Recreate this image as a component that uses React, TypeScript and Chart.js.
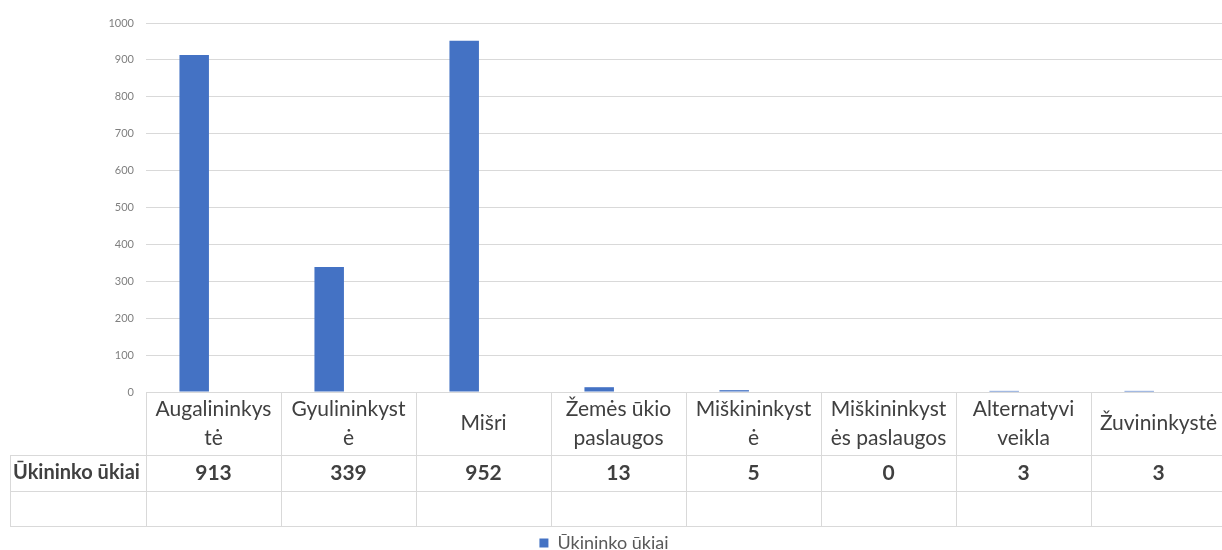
import React, { useEffect, useRef } from "react";
import { Chart, registerables } from "chart.js";

Chart.register(...registerables);

// ---- data ----
const categories: string[][] = [
  ["Augalininkys", "tė"],
  ["Gyulininkyst", "ė"],
  ["Mišri"],
  ["Žemės ūkio", "paslaugos"],
  ["Miškininkyst", "ė"],
  ["Miškininkyst", "ės paslaugos"],
  ["Alternatyvi", "veikla"],
  ["Žuvininkystė"],
];
const seriesName = "Ūkininko ūkiai";
const seriesValues: number[] = [913, 339, 952, 13, 5, 0, 3, 3];
const emptySeries: (number | null)[] = [null, null, null, null, null, null, null, null];
const yMin = 0;
const yMax = 1000;
const yStep = 100;

const FONT = "Lato, 'Open Sans', sans-serif";
const TEXT = "#404040";
const LINE = "#d9d9d9";
const BAR = "#4472C4";

const tablePlugin = {
  id: "dataTable",
  afterDraw(chart: any) {
    const { ctx, chartArea, scales } = chart;
    const x = scales.x;
    const top = Math.round(chartArea.bottom);
    const rowH = [63, 36, 35];
    const y1 = top + rowH[0];
    const y2 = y1 + rowH[1];
    const y3 = y2 + rowH[2];
    const left = chartArea.left;
    const right = chartArea.right;
    const labelLeft = 10;
    const n = categories.length;
    const half = (x.getPixelForValue(1) - x.getPixelForValue(0)) / 2;

    ctx.save();
    ctx.strokeStyle = LINE;
    ctx.lineWidth = 1;
    ctx.beginPath();
    const h = (a: number, b: number, y: number) => {
      ctx.moveTo(a, y + 0.5);
      ctx.lineTo(b, y + 0.5);
    };
    const v = (xx: number, a: number, b: number) => {
      const px = Math.round(xx) + 0.5;
      ctx.moveTo(px, a);
      ctx.lineTo(px, b);
    };
    h(left, right, top);
    h(labelLeft, right, y1);
    h(labelLeft, right, y2);
    h(labelLeft, right, y3);
    for (let i = 0; i < n; i++) v(x.getPixelForValue(i) - half, top, y3 + 1);
    v(x.getPixelForValue(n - 1) + half, top, y3 + 1);
    v(labelLeft, y1, y3 + 1);
    ctx.stroke();

    ctx.fillStyle = TEXT;
    ctx.textAlign = "center";
    ctx.textBaseline = "middle";
    // header labels
    ctx.font = `21px ${FONT}`;
    const lh = 29;
    const hc = (top + y1) / 2;
    categories.forEach((lines, i) => {
      const cx = x.getPixelForValue(i);
      const start = hc - ((lines.length - 1) * lh) / 2;
      lines.forEach((t, j) => ctx.fillText(t, cx, start + j * lh));
    });
    // values row
    ctx.font = `bold 21px ${FONT}`;
    const vc = (y1 + y2) / 2;
    seriesValues.forEach((val, i) => {
      ctx.fillText(String(val), x.getPixelForValue(i), vc);
    });
    ctx.font = `bold 20px ${FONT}`;
    ctx.textAlign = "left";
    ctx.fillText(seriesName, labelLeft + 3, vc);
    ctx.restore();
  },
};

export default function App() {
  const ref = useRef<HTMLCanvasElement | null>(null);

  useEffect(() => {
    if (!ref.current) return;
    const chart = new Chart(ref.current, {
      type: "bar",
      data: {
        labels: categories.map((c) => c.join(" ")),
        datasets: [
          {
            label: seriesName,
            data: seriesValues,
            backgroundColor: BAR,
            borderWidth: 0,
            categoryPercentage: 0.572,
            barPercentage: 0.764,
          },
          {
            label: "",
            data: emptySeries,
            backgroundColor: "#ED7D31",
            borderWidth: 0,
            categoryPercentage: 0.572,
            barPercentage: 0.764,
          },
        ],
      },
      options: {
        responsive: true,
        maintainAspectRatio: false,
        animation: false,
        layout: { padding: { top: 23, left: -18, right: 0, bottom: -12 } },
        plugins: {
          tooltip: { enabled: false },
          legend: {
            display: true,
            position: "bottom",
            labels: {
              filter: (item: any) => item.text !== "",
              boxWidth: 9,
              boxHeight: 9,
              padding: 0,
              color: "#595959",
              font: { family: FONT, size: 18 },
            },
          },
        },
        scales: {
          x: {
            grid: { display: false, drawTicks: false },
            border: { display: false },
            ticks: { display: false },
            afterFit: (s: any) => {
              s.height = 142;
            },
          },
          y: {
            min: yMin,
            max: yMax,
            grid: { color: LINE, lineWidth: 1, drawTicks: false },
            border: { display: false },
            ticks: {
              stepSize: yStep,
              padding: 12,
              color: "#7f7f7f",
              font: { family: FONT, size: 11 },
              callback: (value: any) => String(value),
            },
            afterFit: (s: any) => {
              s.width = 164;
            },
          },
        },
      },
      plugins: [tablePlugin],
    });
    return () => chart.destroy();
  }, []);

  return (
    <div
      style={{
        position: "fixed",
        left: 0,
        top: 0,
        width: 1222,
        height: 550,
        overflow: "hidden",
        background: "#fff",
      }}
    >
      <div style={{ position: "relative", width: 1226, height: 550 }}>
        <canvas ref={ref} />
      </div>
    </div>
  );
}
